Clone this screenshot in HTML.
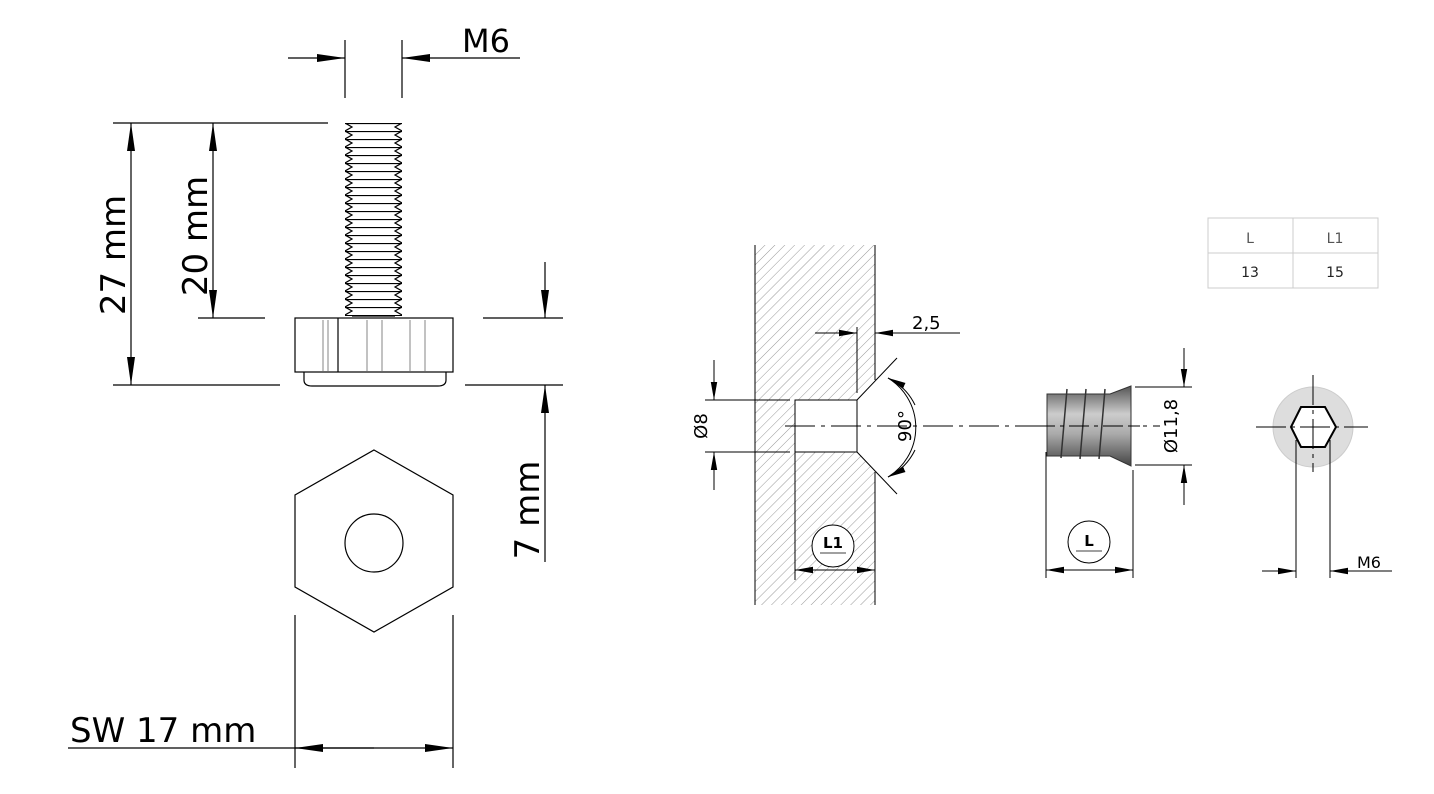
<!DOCTYPE html>
<html><head><meta charset="utf-8"><style>
html,body{margin:0;padding:0;background:#fff;}
svg{display:block;}
text{font-family:"DejaVu Sans","Liberation Sans",sans-serif;}
</style></head><body>
<svg width="1434" height="794" viewBox="0 0 1434 794" xmlns="http://www.w3.org/2000/svg">
<defs>
<marker id="a" viewBox="0 0 28 10" refX="28" refY="5" markerWidth="28" markerHeight="10" markerUnits="userSpaceOnUse" orient="auto"><path d="M0,1 L28,5 L0,9 Z" fill="#000"/></marker>
<marker id="s" viewBox="0 0 18 8" refX="18" refY="4" markerWidth="18" markerHeight="8" markerUnits="userSpaceOnUse" orient="auto"><path d="M0,0.8 L18,4 L0,7.2 Z" fill="#000"/></marker>
<pattern id="th" x="345" y="123" width="57" height="8" patternUnits="userSpaceOnUse">
<path d="M0,0 L7,4 L0,8 M57,0 L50,4 L57,8 M0,0.5 H57" stroke="#000" stroke-width="1.2" fill="none"/>
</pattern>
<pattern id="hat" width="7" height="7" patternUnits="userSpaceOnUse" patternTransform="rotate(45)">
<line x1="0" y1="0" x2="0" y2="7" stroke="#999" stroke-width="1"/>
</pattern>
<linearGradient id="g" x1="0" y1="0" x2="0" y2="1">
<stop offset="0" stop-color="#555"/><stop offset="0.35" stop-color="#ccc"/><stop offset="0.6" stop-color="#aaa"/><stop offset="1" stop-color="#444"/>
</linearGradient>
</defs>
<g stroke="#000" stroke-width="1.2" fill="none">
<line x1="345" y1="40" x2="345" y2="98"/><line x1="402" y1="40" x2="402" y2="98"/>
<line x1="288" y1="58" x2="345" y2="58" marker-end="url(#a)"/>
<line x1="520" y1="58" x2="402" y2="58" marker-end="url(#a)"/>
<rect x="345" y="123" width="57" height="193" fill="url(#th)" stroke="none"/>
<line x1="352" y1="316" x2="395" y2="316"/>
<rect x="295" y="318" width="158" height="54"/>
<line x1="338" y1="318" x2="338" y2="372"/>
<g stroke="#999"><line x1="323" y1="320" x2="323" y2="371"/><line x1="328" y1="320" x2="328" y2="371"/><line x1="367" y1="320" x2="367" y2="371"/><line x1="382" y1="320" x2="382" y2="371"/><line x1="410" y1="320" x2="410" y2="371"/><line x1="425" y1="320" x2="425" y2="371"/></g>
<path d="M304,372 V380 Q304,386 312,386 H438 Q446,386 446,380 V372"/>
<line x1="113" y1="123" x2="328" y2="123"/><line x1="113" y1="385" x2="280" y2="385"/>
<line x1="131" y1="250" x2="131" y2="123" marker-end="url(#a)"/><line x1="131" y1="250" x2="131" y2="385" marker-end="url(#a)"/>
<line x1="198" y1="318" x2="265" y2="318"/>
<line x1="213" y1="220" x2="213" y2="123" marker-end="url(#a)"/><line x1="213" y1="220" x2="213" y2="318" marker-end="url(#a)"/>
<line x1="483" y1="318" x2="563" y2="318"/><line x1="465" y1="385" x2="563" y2="385"/>
<line x1="545" y1="262" x2="545" y2="318" marker-end="url(#a)"/><line x1="545" y1="562" x2="545" y2="385" marker-end="url(#a)"/>
<polygon points="374,450 453,495 453,587 374,632 295,587 295,495"/>
<circle cx="374" cy="543" r="29"/>
<line x1="295" y1="615" x2="295" y2="768"/><line x1="453" y1="615" x2="453" y2="768"/>
<line x1="68" y1="748" x2="374" y2="748"/>
<line x1="374" y1="748" x2="295" y2="748" marker-end="url(#a)"/><line x1="374" y1="748" x2="453" y2="748" marker-end="url(#a)"/>
</g>
<g font-size="34" fill="#000">
<text x="462" y="52" font-size="32">M6</text>
<text transform="translate(125,255) rotate(-90)" text-anchor="middle">27 mm</text>
<text transform="translate(207,236) rotate(-90)" text-anchor="middle">20 mm</text>
<text transform="translate(539,510) rotate(-90)" text-anchor="middle">7 mm</text>
<text x="70" y="742">SW 17 mm</text>
</g>
<rect x="755" y="245" width="120" height="360" fill="url(#hat)"/>
<g stroke="#000" stroke-width="1" fill="none">
<line x1="755" y1="245" x2="755" y2="605"/><line x1="875" y1="245" x2="875" y2="380"/><line x1="875" y1="472" x2="875" y2="605"/>
<path d="M795,400 H857 L875,382 L875,470 L857,452 H795 Z" fill="#fff" stroke="none"/>
<path d="M795,400 H857 V452 H795 Z"/>
<line x1="857" y1="400" x2="897" y2="358"/><line x1="857" y1="452" x2="897" y2="494"/>
<line x1="705" y1="400" x2="790" y2="400"/><line x1="705" y1="452" x2="790" y2="452"/>
<line x1="714" y1="360" x2="714" y2="400" marker-end="url(#s)"/><line x1="714" y1="490" x2="714" y2="452" marker-end="url(#s)"/>
<line x1="857" y1="327" x2="857" y2="393"/>
<line x1="815" y1="333" x2="857" y2="333" marker-end="url(#s)"/><line x1="960" y1="333" x2="875" y2="333" marker-end="url(#s)"/>
<path d="M888,378 A58,58 0 0 1 888,477"/>
<path d="M915,405 A58,58 0 0 0 888,378" marker-end="url(#s)"/>
<path d="M915,450 A58,58 0 0 1 888,477" marker-end="url(#s)"/>
<line x1="795" y1="452" x2="795" y2="580"/>
<line x1="835" y1="570" x2="795" y2="570" marker-end="url(#s)"/><line x1="835" y1="570" x2="875" y2="570" marker-end="url(#s)"/>
<circle cx="833" cy="546" r="21" fill="#fff"/>
<line x1="820" y1="553" x2="846" y2="553" stroke-width="0.8"/>
<line x1="785" y1="426" x2="1160" y2="426" stroke-dasharray="30,6,4,6"/>
<path d="M1047,394 H1110 L1131,386 V466 L1110,456 H1047 Z" fill="url(#g)" stroke="#333"/>
<g stroke="#333" stroke-width="1.5"><path d="M1067,389 L1061,458"/><path d="M1086,389 L1080,459"/><path d="M1105,389 L1099,459"/></g>
<line x1="1035" y1="426" x2="1140" y2="426" stroke-dasharray="20,5,4,5"/>
<line x1="1135" y1="387" x2="1192" y2="387"/><line x1="1135" y1="465" x2="1192" y2="465"/>
<line x1="1184" y1="348" x2="1184" y2="387" marker-end="url(#s)"/><line x1="1184" y1="505" x2="1184" y2="465" marker-end="url(#s)"/>
<line x1="1046" y1="452" x2="1046" y2="578"/><line x1="1133" y1="470" x2="1133" y2="578"/>
<line x1="1090" y1="570" x2="1046" y2="570" marker-end="url(#s)"/><line x1="1090" y1="570" x2="1133" y2="570" marker-end="url(#s)"/>
<circle cx="1089" cy="542" r="21"/>
<line x1="1076" y1="551" x2="1102" y2="551" stroke-width="0.8"/>
<circle cx="1313" cy="427" r="40" fill="#ddd" stroke="#ccc"/>
<polygon points="1291,427 1301,407 1325,407 1336,427 1325,447 1301,447" fill="#fff" stroke="#000" stroke-width="2"/>
<line x1="1256" y1="427" x2="1368" y2="427" stroke-dasharray="30,5,4,5"/>
<line x1="1313" y1="375" x2="1313" y2="472" stroke-dasharray="30,5,4,5"/>
<line x1="1296" y1="440" x2="1296" y2="578"/><line x1="1330" y1="440" x2="1330" y2="578"/>
<line x1="1262" y1="571" x2="1296" y2="571" marker-end="url(#s)"/><line x1="1392" y1="571" x2="1330" y2="571" marker-end="url(#s)"/>
<g stroke="#ccc"><rect x="1208" y="218" width="170" height="70"/><line x1="1208" y1="253" x2="1378" y2="253"/><line x1="1293" y1="218" x2="1293" y2="288"/></g>
</g>
<g fill="#000" font-size="18">
<text x="912" y="329">2,5</text>
<text transform="translate(707,426) rotate(-90)" text-anchor="middle">Ø8</text>
<text transform="translate(911,426) rotate(-90)" text-anchor="middle">90°</text>
<text transform="translate(1177,426) rotate(-90)" text-anchor="middle">Ø11,8</text>
<text x="1357" y="568" font-size="16">M6</text>
<text x="833" y="548" text-anchor="middle" font-size="15" font-weight="bold">L1</text>
<text x="1089" y="546" text-anchor="middle" font-size="15" font-weight="bold">L</text>
<g font-size="14" text-anchor="middle" fill="#555"><text x="1250" y="243">L</text><text x="1335" y="243">L1</text><text x="1250" y="277" fill="#222">13</text><text x="1335" y="277" fill="#222">15</text></g>
</g>
</svg>
</body></html>
